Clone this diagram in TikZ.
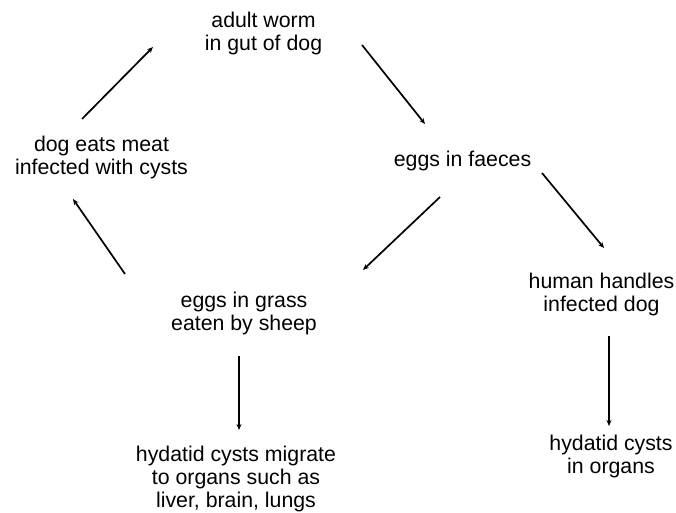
\documentclass[tikz,border=0pt]{standalone}
\usepackage{fontspec}
\setmainfont{Liberation Sans}
\usetikzlibrary{positioning,arrows.meta}

\begin{document}
\begin{tikzpicture}[x=1pt, y=1pt, on grid,
  every node/.style={font=\fontsize{21.3}{23}\selectfont, align=center, inner sep=0pt},
  flow/.style={-{Stealth[length=6pt,width=5pt]}, line width=1.7pt}]
\useasboundingbox (0,0) rectangle (676,513);
\node (worm) at (263.5,479.9) {adult worm\\in gut of dog};
\node (dog) [below left=124pt and 162pt of worm] {dog eats meat\\infected with cysts};
\node (faeces) [below right=127.4pt and 199pt of worm] {eggs in faeces};
\node (grass) [below left=280pt and 19.5pt of worm] {eggs in grass\\eaten by sheep};
\node (migrate) [below left=165.5pt and 8pt of grass] {hydatid cysts migrate\\to organs such as\\liver, brain, lungs};
\node (human) [below right=133.6pt and 139pt of faeces] {human handles\\infected dog};
\node (organs) [below right=162pt and 9.5pt of human] {hydatid cysts\\in organs};
\draw[flow] ([shift={(-19.5pt,38.1pt)}]dog.center) -- ([shift={(-110.5pt,-13.9pt)}]worm.center);
\draw[flow] ([shift={(98.5pt,-11.9pt)}]worm.center) -- ([shift={(-37.5pt,36.5pt)}]faeces.center);
\draw[flow] ([shift={(79.5pt,-12.5pt)}]faeces.center) -- ([shift={(2.5pt,46.1pt)}]human.center);
\draw[flow] ([shift={(-22.5pt,-36.5pt)}]faeces.center) -- ([shift={(119pt,43.1pt)}]grass.center);
\draw[flow] ([shift={(-119pt,39.1pt)}]grass.center) -- ([shift={(-28.5pt,-41.9pt)}]dog.center);
\draw[flow] ([shift={(-5pt,-42.9pt)}]grass.center) -- ([shift={(3pt,48.6pt)}]migrate.center);
\draw[flow] ([shift={(7.5pt,-41.9pt)}]human.center) -- ([shift={(-2pt,30.1pt)}]organs.center);
\end{tikzpicture}
\end{document}
